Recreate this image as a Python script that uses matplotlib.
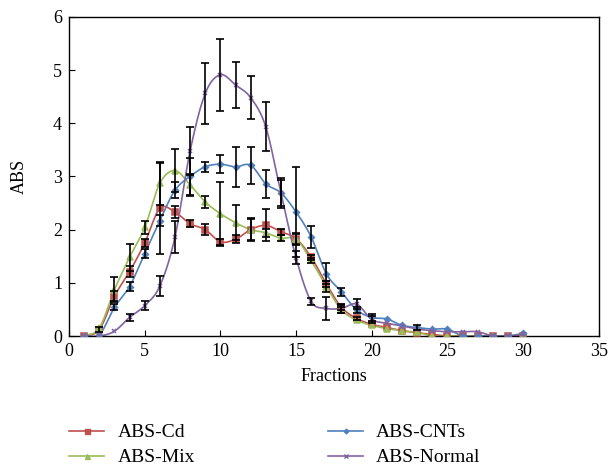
import numpy as np
import matplotlib
matplotlib.use("Agg")
import matplotlib.pyplot as plt

plt.rcParams['font.family'] = ['Liberation Serif', 'DejaVu Serif']

fractions = np.arange(1, 31)

abs_cd = [0, 0.12, 0.75, 1.21, 1.75, 2.40, 2.33, 2.11, 2.00, 1.77,
          1.82, 2.00, 2.08, 1.96, 1.83, 1.48, 0.98, 0.54, 0.33, 0.22,
          0.16, 0.10, 0.06, 0.03, 0, 0, 0, 0, 0, 0]
abs_cd_err = [0, 0.04, 0.1, 0.1, 0.08, 0.85, 0.12, 0.07, 0.1, 0.05,
              0.07, 0.2, 0.3, 0.06, 0.1, 0.05, 0.05, 0.05, 0.03, 0,
              0, 0, 0, 0, 0, 0, 0, 0, 0, 0]

abs_mix = [0, 0.15, 0.87, 1.48, 2.04, 2.87, 3.11, 2.84, 2.52, 2.30,
           2.13, 2.00, 1.94, 1.84, 1.82, 1.42, 0.93, 0.49, 0.30, 0.20,
           0.14, 0.10, 0.07, 0, 0, 0, 0, 0, 0, 0]
abs_mix_err = [0, 0, 0.23, 0.25, 0.12, 0.4, 0.4, 0.2, 0.12, 0.6,
               0.33, 0.22, 0.08, 0.05, 0.1, 0.05, 0.1, 0.05, 0, 0,
               0, 0, 0, 0, 0, 0, 0, 0, 0, 0]

abs_cnts = [0, 0.02, 0.54, 0.93, 1.55, 2.17, 2.74, 3.00, 3.18, 3.23,
            3.18, 3.21, 2.86, 2.69, 2.33, 1.86, 1.17, 0.83, 0.49, 0.35,
            0.32, 0.20, 0.16, 0.13, 0.13, 0, 0, 0, 0, 0.05]
abs_cnts_err = [0, 0, 0.06, 0.08, 0.08, 0.1, 0.15, 0.35, 0.1, 0.17,
                0.38, 0.35, 0.26, 0.25, 0.85, 0.2, 0.2, 0.08, 0.06, 0.06,
                0, 0, 0.04, 0, 0, 0, 0, 0, 0, 0]

abs_normal = [0, 0, 0.09, 0.35, 0.57, 0.94, 1.86, 3.48, 4.56, 4.91,
              4.72, 4.48, 3.93, 2.69, 1.47, 0.65, 0.52, 0.52, 0.60, 0.31,
              0.24, 0.19, 0.13, 0.10, 0.08, 0.08, 0.08, 0, 0, 0.03]
abs_normal_err = [0, 0, 0, 0.07, 0.08, 0.18, 0.3, 0.45, 0.58, 0.68,
                  0.43, 0.4, 0.46, 0.28, 0.12, 0.07, 0.21, 0.08, 0.1, 0.06,
                  0, 0, 0, 0, 0, 0, 0, 0, 0, 0]


def smooth(x, y, n=12):
    # Catmull-Rom style smoothing like Excel's "smoothed line"
    x = np.asarray(x, float)
    y = np.asarray(y, float)
    px = np.concatenate([[2 * x[0] - x[1]], x, [2 * x[-1] - x[-2]]])
    py = np.concatenate([[2 * y[0] - y[1]], y, [2 * y[-1] - y[-2]]])
    xs, ys = [], []
    t = np.linspace(0, 1, n, endpoint=False)
    for i in range(1, len(px) - 2):
        for p, out in ((px, xs), (py, ys)):
            p0, p1, p2, p3 = p[i - 1], p[i], p[i + 1], p[i + 2]
            out.extend(0.5 * (2 * p1 + (-p0 + p2) * t
                              + (2 * p0 - 5 * p1 + 4 * p2 - p3) * t ** 2
                              + (-p0 + 3 * p1 - 3 * p2 + p3) * t ** 3))
    xs.append(x[-1])
    ys.append(y[-1])
    return np.array(xs), np.array(ys)


fig = plt.figure(figsize=(6.11, 4.67), dpi=100)
ax = fig.add_axes([0.113, 0.2805, 0.867, 0.6835])

series = [
    ("ABS-Cd", abs_cd, abs_cd_err, "#C0504D", "s", 4.5),
    ("ABS-Mix", abs_mix, abs_mix_err, "#9BBB59", "^", 4.5),
    ("ABS-CNTs", abs_cnts, abs_cnts_err, "#4F81BD", "D", 3),
    ("ABS-Normal", abs_normal, abs_normal_err, "#8064A2", "x", 3.5),
]

handles = {}
for name, vals, err, col, mk, ms in series:
    sx, sy = smooth(fractions, vals)
    ax.plot(sx, sy, color=col, lw=1.2, zorder=2)
    ax.plot(fractions, vals, ls='none', marker=mk, ms=ms, color=col,
            mec=col, mew=1.1, zorder=3)
    handles[name] = ax.plot([], [], color=col, lw=1.2, marker=mk,
                            ms=ms * 0.8, mec=col, mew=1.0)[0]

for name, vals, err, col, mk, ms in series:
    e = np.asarray(err)
    keep = e > 0
    ax.errorbar(fractions[keep], np.asarray(vals)[keep], yerr=e[keep],
                fmt='none', ecolor='black', elinewidth=1.2, capsize=3,
                capthick=1.2, zorder=4)

ax.set_xlim(0, 35)
ax.set_ylim(0, 6)
ax.set_xticks(range(0, 36, 5))
ax.set_yticks(range(0, 7))
ax.tick_params(direction='in', labelsize=13, length=4, pad=5)
for s in ax.spines.values():
    s.set_linewidth(1.0)
ax.set_xlabel("Fractions", fontsize=13, labelpad=6)
ax.set_ylabel("ABS", fontsize=13, labelpad=18)

order = ["ABS-Cd", "ABS-Mix", "ABS-CNTs", "ABS-Normal"]
fig.legend([handles[k] for k in order], order, ncol=2, frameon=False,
           loc='upper left', bbox_to_anchor=(0.085, 0.13), fontsize=14,
           handlelength=1.8, handletextpad=0.67, columnspacing=6.85,
           labelspacing=0.38)

fig.savefig("out.png", dpi=100)
